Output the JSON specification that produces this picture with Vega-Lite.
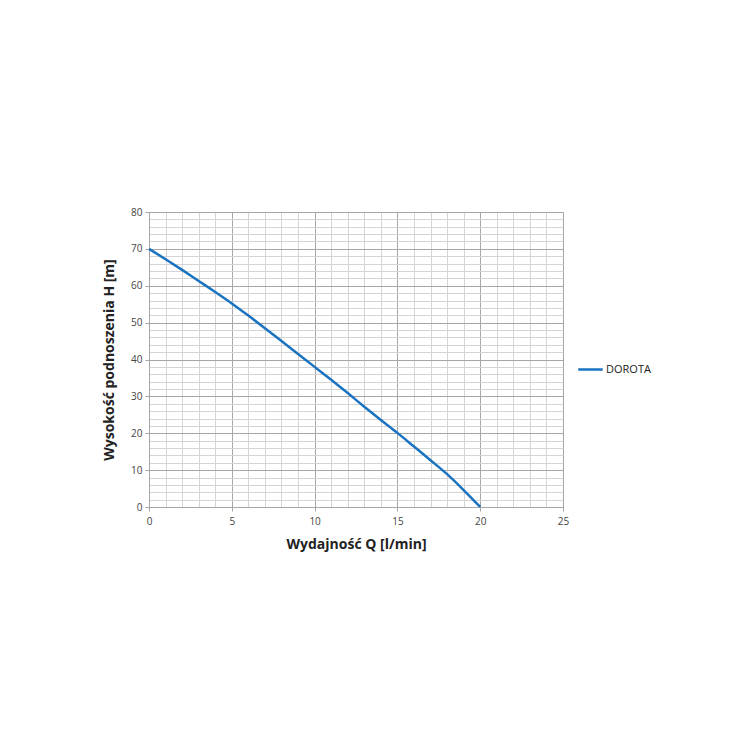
{
  "$schema": "https://vega.github.io/schema/vega-lite/v6.json",
  "autosize": "none",
  "width": 414,
  "height": 295,
  "padding": {"left": 149, "top": 212, "right": 187, "bottom": 243},
  "background": "white",
  "data": {
    "values": [
      {"q": 0, "h": 70, "series": "DOROTA"},
      {"q": 1, "h": 67.2, "series": "DOROTA"},
      {"q": 2, "h": 64.3, "series": "DOROTA"},
      {"q": 3, "h": 61.3, "series": "DOROTA"},
      {"q": 4, "h": 58.3, "series": "DOROTA"},
      {"q": 5, "h": 55.2, "series": "DOROTA"},
      {"q": 6, "h": 51.9, "series": "DOROTA"},
      {"q": 7, "h": 48.5, "series": "DOROTA"},
      {"q": 8, "h": 45, "series": "DOROTA"},
      {"q": 9, "h": 41.5, "series": "DOROTA"},
      {"q": 10, "h": 38, "series": "DOROTA"},
      {"q": 11, "h": 34.5, "series": "DOROTA"},
      {"q": 12, "h": 30.9, "series": "DOROTA"},
      {"q": 13, "h": 27.2, "series": "DOROTA"},
      {"q": 14, "h": 23.6, "series": "DOROTA"},
      {"q": 15, "h": 20.1, "series": "DOROTA"},
      {"q": 16, "h": 16.4, "series": "DOROTA"},
      {"q": 17, "h": 12.7, "series": "DOROTA"},
      {"q": 18, "h": 8.9, "series": "DOROTA"},
      {"q": 19, "h": 4.6, "series": "DOROTA"},
      {"q": 20, "h": 0, "series": "DOROTA"}
    ]
  },
  "mark": {"type": "line", "strokeWidth": 2.5, "interpolate": "monotone"},
  "encoding": {
    "x": {
      "field": "q",
      "type": "quantitative",
      "scale": {"domain": [0, 25], "nice": false},
      "axis": {
        "title": "Wydajność Q [l/min]",
        "values": [0,1,2,3,4,5,6,7,8,9,10,11,12,13,14,15,16,17,18,19,20,21,22,23,24,25],
        "labelExpr": "datum.value % 5 === 0 ? datum.label : ''",
        "gridColor": {"condition": {"test": "datum.value % 5 === 0", "value": "#a6a6a6"}, "value": "#d4d4d4"},
        "tickOpacity": {"condition": {"test": "datum.value % 5 === 0", "value": 1}, "value": 0},
        "labelFlush": false,
        "labelPadding": 5,
        "titlePadding": 11
      }
    },
    "y": {
      "field": "h",
      "type": "quantitative",
      "scale": {"domain": [0, 80], "nice": false},
      "axis": {
        "title": "Wysokość podnoszenia H [m]",
        "values": [0,2,4,6,8,10,12,14,16,18,20,22,24,26,28,30,32,34,36,38,40,42,44,46,48,50,52,54,56,58,60,62,64,66,68,70,72,74,76,78,80],
        "labelExpr": "datum.value % 10 === 0 ? datum.label : ''",
        "gridColor": {"condition": {"test": "datum.value % 10 === 0", "value": "#a6a6a6"}, "value": "#d4d4d4"},
        "tickOpacity": {"condition": {"test": "datum.value % 10 === 0", "value": 1}, "value": 0},
        "labelFlush": false,
        "titlePadding": 14
      }
    },
    "color": {
      "field": "series",
      "type": "nominal",
      "scale": {"range": ["#1a73c1"]},
      "legend": {
        "title": null,
        "orient": "none",
        "legendX": 428,
        "legendY": 144,
        "symbolType": "stroke",
        "symbolStrokeWidth": 2.5,
        "symbolSize": 600,
        "labelFontSize": 11,
        "labelColor": "#222222",
        "labelFont": "Open Sans",
        "labelOffset": 2
      }
    }
  },
  "config": {
    "view": {"stroke": "#a6a6a6"},
    "axis": {
      "labelFont": "Open Sans",
      "labelFontSize": 10,
      "labelColor": "#444444",
      "titleFont": "Open Sans",
      "titleFontSize": 14,
      "titleFontWeight": "bold",
      "titleColor": "#222222",
      "domainColor": "#a6a6a6",
      "tickColor": "#a6a6a6",
      "tickSize": 4,
      "labelPadding": 3
    }
  }
}
